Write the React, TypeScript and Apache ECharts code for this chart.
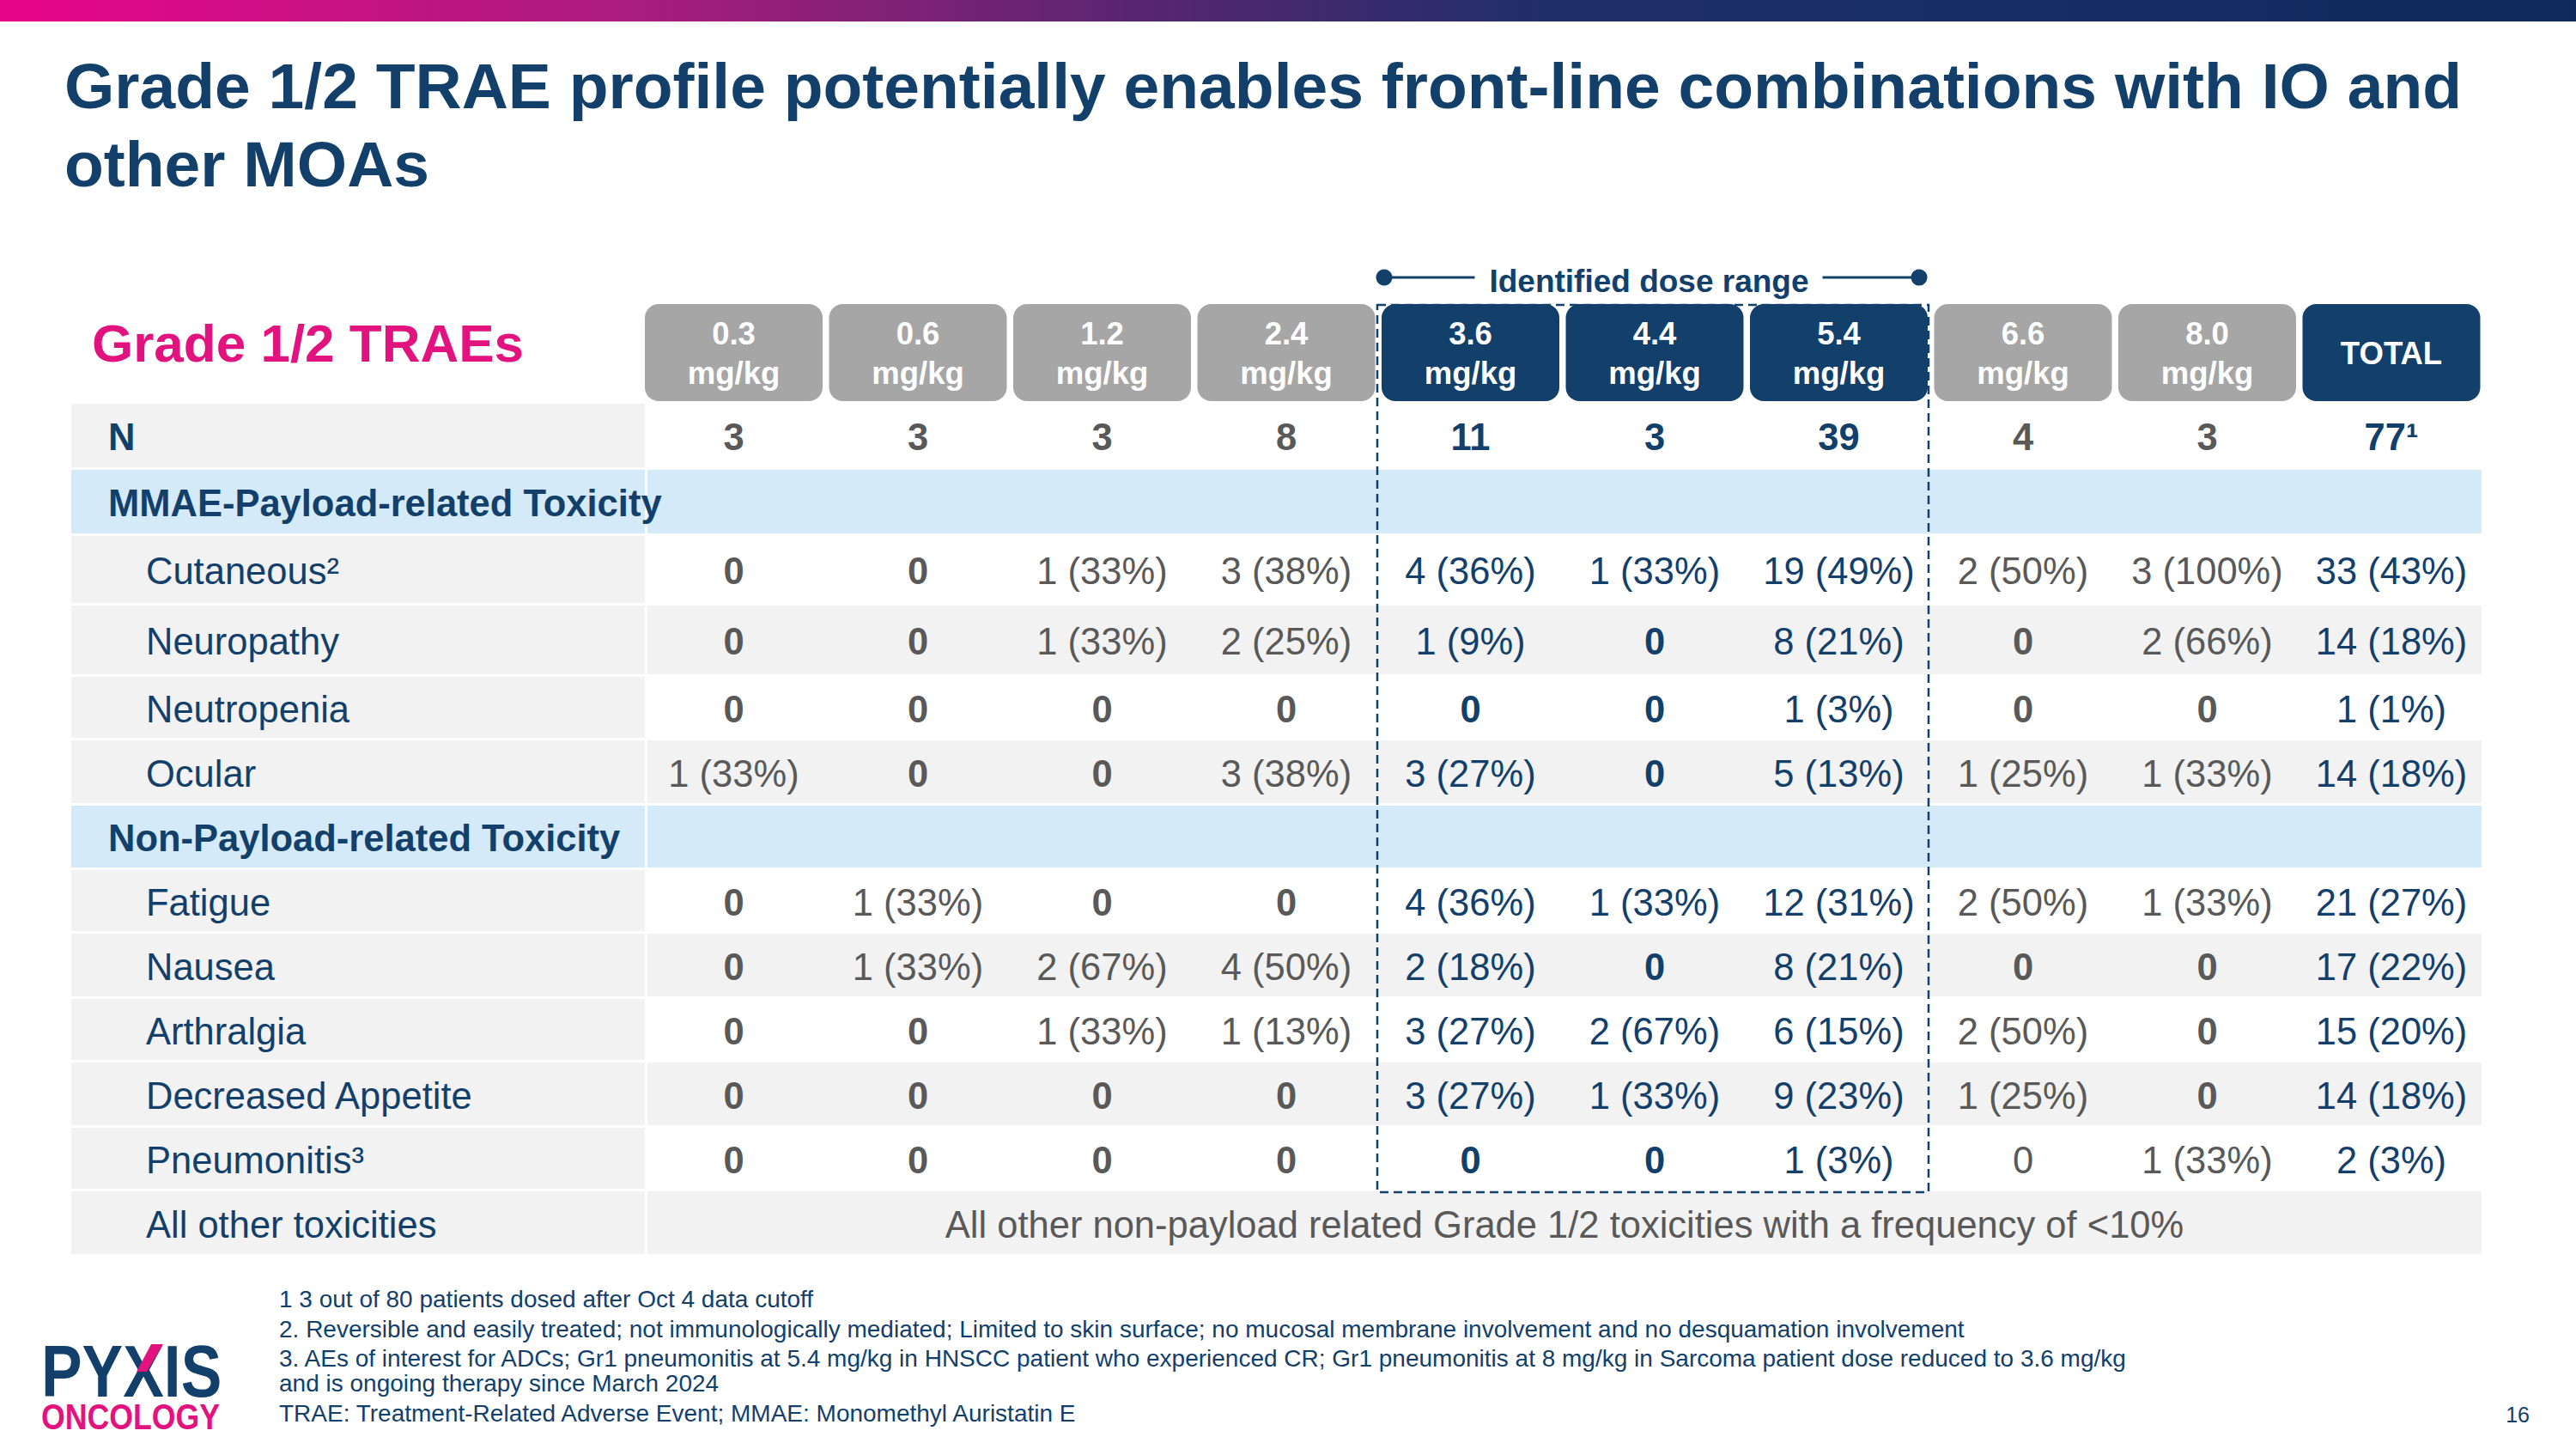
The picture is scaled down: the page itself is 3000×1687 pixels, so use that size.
import React, { useEffect, useRef } from "react";
import * as echarts from "echarts";

// ---------------- Data ----------------
const TITLE_LINES = [
  "Grade 1/2 TRAE profile potentially enables front-line combinations with IO and",
  "other MOAs",
];
const TABLE_TITLE = "Grade 1/2 TRAEs";
const DOSES = ["0.3", "0.6", "1.2", "2.4", "3.6", "4.4", "5.4", "6.6", "8.0"];
const DOSE_UNIT = "mg/kg";
const TOTAL_LABEL = "TOTAL";
const IDENTIFIED_DOSES = ["3.6", "4.4", "5.4"];
const DOSE_RANGE_LABEL = "Identified dose range";

const N_LABEL = "N";
const N_VALUES = ["3", "3", "3", "8", "11", "3", "39", "4", "3", "77¹"];

const MMAE_SECTION = "MMAE-Payload-related Toxicity";
const MMAE_TOXICITIES = ["Cutaneous²", "Neuropathy", "Neutropenia", "Ocular"];
const CUTANEOUS = ["0", "0", "1 (33%)", "3 (38%)", "4 (36%)", "1 (33%)", "19 (49%)", "2 (50%)", "3 (100%)", "33 (43%)"];
const NEUROPATHY = ["0", "0", "1 (33%)", "2 (25%)", "1 (9%)", "0", "8 (21%)", "0", "2 (66%)", "14 (18%)"];
const NEUTROPENIA = ["0", "0", "0", "0", "0", "0", "1 (3%)", "0", "0", "1 (1%)"];
const OCULAR = ["1 (33%)", "0", "0", "3 (38%)", "3 (27%)", "0", "5 (13%)", "1 (25%)", "1 (33%)", "14 (18%)"];

const NON_PAYLOAD_SECTION = "Non-Payload-related Toxicity";
const NON_PAYLOAD_TOXICITIES = ["Fatigue", "Nausea", "Arthralgia", "Decreased Appetite", "Pneumonitis³"];
const FATIGUE = ["0", "1 (33%)", "0", "0", "4 (36%)", "1 (33%)", "12 (31%)", "2 (50%)", "1 (33%)", "21 (27%)"];
const NAUSEA = ["0", "1 (33%)", "2 (67%)", "4 (50%)", "2 (18%)", "0", "8 (21%)", "0", "0", "17 (22%)"];
const ARTHRALGIA = ["0", "0", "1 (33%)", "1 (13%)", "3 (27%)", "2 (67%)", "6 (15%)", "2 (50%)", "0", "15 (20%)"];
const DECREASED_APPETITE = ["0", "0", "0", "0", "3 (27%)", "1 (33%)", "9 (23%)", "1 (25%)", "0", "14 (18%)"];
const PNEUMONITIS = ["0", "0", "0", "0", "0", "0", "1 (3%)", "0", "1 (33%)", "2 (3%)"];

const OTHER_LABEL = "All other toxicities";
const OTHER_TEXT = "All other non-payload related Grade 1/2 toxicities with a frequency of <10%";

const FOOTNOTES = [
  "1 3 out of 80 patients dosed after Oct 4 data cutoff",
  "2. Reversible and easily treated; not immunologically mediated; Limited to skin surface; no mucosal membrane involvement and no desquamation involvement",
  "3. AEs of interest for ADCs; Gr1 pneumonitis at 5.4 mg/kg in HNSCC patient who experienced CR; Gr1 pneumonitis at 8 mg/kg in Sarcoma patient dose reduced to 3.6 mg/kg",
  "and is ongoing therapy since March 2024",
  "TRAE: Treatment-Related Adverse Event; MMAE: Monomethyl Auristatin E",
];
const PAGE_NUMBER = "16";
const LOGO_TOP = "PYXIS";
const LOGO_BOTTOM = "ONCOLOGY";

// ---------------- Styles / layout ----------------
const FONT = "'Liberation Sans', Arial, Helvetica, sans-serif";
const NAVY = "#12406B";
const GRAY_TEXT = "#595959";
const GRAY_BOX = "#A6A6A6";
const MAGENTA = "#E2137F";
const ROW_GRAY = "#F2F2F2";
const ROW_BLUE = "#D5EAF8";
// style exception: this zero is not bold in the source
const REGULAR_ZEROS = [["Pneumonitis³", "6.6"]];

const BOX_W = 207;
const COL_PITCH = 214.5;
const LABEL_LEFT = 83;
const GRID_LEFT = 751 - (COL_PITCH - BOX_W) / 2;
const GRID_TOP = 354;
const HEADER_H = 113;
const BODY_TOP = 116;
const ROW_H = [77, 77, 81, 83, 74, 76, 75, 74, 76, 74, 76, 74, 76];
const ROW_GAP = 3;
const CELL_FONT = 43.5;

const COLUMNS = [...DOSES, TOTAL_LABEL];
const isHighlighted = (c: string) => IDENTIFIED_DOSES.includes(c) || c === TOTAL_LABEL;

type RowSpec = {
  kind: "n" | "section" | "item" | "merged";
  label: string;
  values?: string[];
  text?: string;
  shade?: boolean;
};

const MMAE_VALUES = [CUTANEOUS, NEUROPATHY, NEUTROPENIA, OCULAR];
const NON_PAYLOAD_VALUES = [FATIGUE, NAUSEA, ARTHRALGIA, DECREASED_APPETITE, PNEUMONITIS];

const ROWS: RowSpec[] = [];
ROWS.push({ kind: "n", label: N_LABEL, values: N_VALUES });
ROWS.push({ kind: "section", label: MMAE_SECTION });
MMAE_TOXICITIES.forEach((name, i) =>
  ROWS.push({ kind: "item", label: name, values: MMAE_VALUES[i], shade: i % 2 === 1 })
);
ROWS.push({ kind: "section", label: NON_PAYLOAD_SECTION });
NON_PAYLOAD_TOXICITIES.forEach((name, i) =>
  ROWS.push({ kind: "item", label: name, values: NON_PAYLOAD_VALUES[i], shade: i % 2 === 1 })
);
ROWS.push({ kind: "merged", label: OTHER_LABEL, text: OTHER_TEXT, shade: true });

const ROW_TOPS: number[] = [];
{
  let acc = BODY_TOP;
  ROW_H.forEach((h) => {
    ROW_TOPS.push(acc);
    acc += h;
  });
}
const TABLE_BOTTOM = BODY_TOP + ROW_H.reduce((a, b) => a + b, 0);

function textEl(x: number, y: number, text: string, opts: any = {}) {
  return {
    type: "text",
    x,
    y,
    silent: true,
    style: {
      text,
      fill: opts.fill || NAVY,
      fontSize: opts.fontSize || CELL_FONT,
      fontWeight: opts.fontWeight || "normal",
      fontFamily: FONT,
      align: opts.align || "left",
      verticalAlign: opts.verticalAlign || "middle",
      lineHeight: opts.lineHeight,
    },
    scaleX: opts.scaleX,
  };
}

function buildOption() {
  const headerSeries = {
    type: "custom",
    coordinateSystem: "cartesian2d",
    silent: true,
    encode: { x: 0, y: 1 },
    data: COLUMNS.map((_, j) => [j, 0]),
    renderItem: (params: any, api: any) => {
      const j = params.dataIndex;
      const col = COLUMNS[j];
      const [cx, top] = api.coord([j, 0]);
      const bottom = api.coord([j, HEADER_H])[1];
      const label = col === TOTAL_LABEL ? col : col + "\n" + DOSE_UNIT;
      return {
        type: "group",
        children: [
          {
            type: "rect",
            shape: { x: cx - BOX_W / 2, y: top, width: BOX_W, height: bottom - top, r: 16 },
            style: { fill: isHighlighted(col) ? NAVY : GRAY_BOX },
          },
          textEl(cx, (top + bottom) / 2 + 1, label, {
            fill: "#FFFFFF",
            fontSize: 36.5,
            fontWeight: "bold",
            align: "center",
            lineHeight: 46,
          }),
        ],
      };
    },
  };

  const rowSeries = {
    type: "custom",
    coordinateSystem: "cartesian2d",
    silent: true,
    encode: { x: 0, y: 1 },
    data: ROWS.map((_, k) => [0, ROW_TOPS[k], ROW_TOPS[k] + ROW_H[k]]),
    renderItem: (params: any, api: any) => {
      const k = params.dataIndex;
      const row = ROWS[k];
      const top = api.coord([0, api.value(1)])[1];
      const bottom = api.coord([0, api.value(2)])[1] - ROW_GAP;
      const cy = (top + bottom) / 2 + 2;
      const first = api.coord([0, 0])[0];
      const last = api.coord([COLUMNS.length - 1, 0])[0];
      const labelRight = first - BOX_W / 2;
      const valueLeft = labelRight + 3;
      const valueRight = last + BOX_W / 2 + 1.5;
      const children: any[] = [];
      children.push({
        type: "rect",
        shape: { x: LABEL_LEFT, y: top, width: labelRight - LABEL_LEFT, height: bottom - top },
        style: { fill: row.kind === "section" ? ROW_BLUE : ROW_GRAY },
      });
      let valueFill: string | null = null;
      if (row.kind === "section") valueFill = ROW_BLUE;
      else if (row.shade) valueFill = ROW_GRAY;
      if (valueFill) {
        children.push({
          type: "rect",
          shape: { x: valueLeft, y: top, width: valueRight - valueLeft, height: bottom - top },
          style: { fill: valueFill },
        });
      }
      const bold = row.kind === "n" || row.kind === "section";
      children.push(
        textEl(bold ? 126 : 170, cy, row.label, { fontWeight: bold ? "bold" : "normal" })
      );
      if (row.values) {
        row.values.forEach((v, j) => {
          const col = COLUMNS[j];
          const cx = api.coord([j, 0])[0];
          const regularZero = REGULAR_ZEROS.some((p) => p[0] === row.label && p[1] === col);
          const isBold = row.kind === "n" || (v === "0" && !regularZero);
          children.push(
            textEl(cx, cy, v, {
              fill: isHighlighted(col) ? NAVY : GRAY_TEXT,
              fontWeight: isBold ? "bold" : "normal",
              align: "center",
            })
          );
        });
      }
      if (row.kind === "merged" && row.text) {
        children.push(
          textEl((valueLeft + valueRight) / 2, cy, row.text, { fill: GRAY_TEXT, align: "center" })
        );
      }
      return { type: "group", children };
    },
  };

  const firstIdx = COLUMNS.indexOf(IDENTIFIED_DOSES[0]);
  const lastIdx = COLUMNS.indexOf(IDENTIFIED_DOSES[IDENTIFIED_DOSES.length - 1]);
  const pneumoIdx = ROWS.findIndex((r) => r.label === NON_PAYLOAD_TOXICITIES[NON_PAYLOAD_TOXICITIES.length - 1]);
  const rangeBottom = ROW_TOPS[pneumoIdx] + ROW_H[pneumoIdx];

  const rangeSeries = {
    type: "custom",
    coordinateSystem: "cartesian2d",
    silent: true,
    encode: { x: 0, y: 1 },
    data: [[firstIdx, rangeBottom, lastIdx]],
    renderItem: (params: any, api: any) => {
      const [ca, top0] = api.coord([api.value(0), 0]);
      const cb = api.coord([api.value(2), 0])[0];
      const bottom = api.coord([api.value(0), api.value(1)])[1] + 1;
      const left = ca - BOX_W / 2 - 5;
      const right = cb + BOX_W / 2 + 1;
      const top = top0 + 1;
      const yb = top - 32;
      const dotL = left + 8;
      const dotR = right - 11;
      const lx = (dotL + dotR) / 2 - 3;
      return {
        type: "group",
        children: [
          {
            type: "rect",
            shape: { x: left, y: top, width: right - left, height: bottom - top },
            style: { fill: "none", stroke: NAVY, lineWidth: 2.5, lineDash: [10, 6] },
          },
          { type: "line", shape: { x1: dotL, y1: yb, x2: lx - 203, y2: yb }, style: { stroke: NAVY, lineWidth: 3 } },
          { type: "line", shape: { x1: lx + 202, y1: yb, x2: dotR, y2: yb }, style: { stroke: NAVY, lineWidth: 3 } },
          { type: "circle", shape: { cx: dotL, cy: yb, r: 9.5 }, style: { fill: NAVY } },
          { type: "circle", shape: { cx: dotR, cy: yb, r: 9.5 }, style: { fill: NAVY } },
          textEl(lx, yb + 4, DOSE_RANGE_LABEL, { fontSize: 37, fontWeight: "bold", align: "center" }),
        ],
      };
    },
  };

  const FOOT_Y = [1512, 1547, 1581, 1610, 1645];

  const graphics: any[] = [
    {
      type: "rect",
      silent: true,
      shape: { x: 0, y: 0, width: 3000, height: 25 },
      style: {
        fill: new echarts.graphic.LinearGradient(0, 0, 1, 0, [
          { offset: 0, color: "#E8058A" },
          { offset: 0.25, color: "#A81C80" },
          { offset: 0.45, color: "#55266F" },
          { offset: 0.6, color: "#1F2F6A" },
          { offset: 1, color: "#0E2A5C" },
        ]),
      },
    },
    textEl(75, 100, TITLE_LINES[0], { fontSize: 75, fontWeight: "bold" }),
    textEl(75, 191, TITLE_LINES[1], { fontSize: 75, fontWeight: "bold" }),
    textEl(107, 399, TABLE_TITLE, { fontSize: 62, fontWeight: "bold", fill: MAGENTA }),
    ...FOOTNOTES.map((t, i) => textEl(325, FOOT_Y[i], t, { fontSize: 28 })),
    textEl(2946, 1647, PAGE_NUMBER, { fontSize: 25, align: "right" }),
    textEl(48, 1597, LOGO_TOP, { fontSize: 85, fontWeight: "bold", scaleX: 0.84 }),
    {
      type: "polygon",
      silent: true,
      shape: { points: [[159, 1597], [171, 1597], [190, 1565], [176, 1565]] },
      style: { fill: MAGENTA },
    },
    textEl(48, 1649, LOGO_BOTTOM, { fontSize: 43, fontWeight: "bold", fill: MAGENTA, scaleX: 0.83 }),
  ];

  return {
    animation: false,
    backgroundColor: "#FFFFFF",
    grid: {
      left: GRID_LEFT,
      top: GRID_TOP,
      width: COLUMNS.length * COL_PITCH,
      height: TABLE_BOTTOM,
    },
    xAxis: { type: "category", data: COLUMNS, show: false },
    yAxis: { type: "value", min: 0, max: TABLE_BOTTOM, inverse: true, show: false },
    series: [rowSeries, headerSeries, rangeSeries],
    graphic: { elements: graphics },
  };
}

export default function App() {
  const ref = useRef<HTMLDivElement>(null);
  useEffect(() => {
    if (!ref.current) return;
    const chart = echarts.init(ref.current, undefined, { renderer: "svg" });
    chart.setOption(buildOption() as any);
    return () => chart.dispose();
  }, []);
  return (
    <div
      ref={ref}
      style={{ position: "fixed", left: 0, top: 0, width: 3000, height: 1687, background: "#FFFFFF" }}
    />
  );
}
